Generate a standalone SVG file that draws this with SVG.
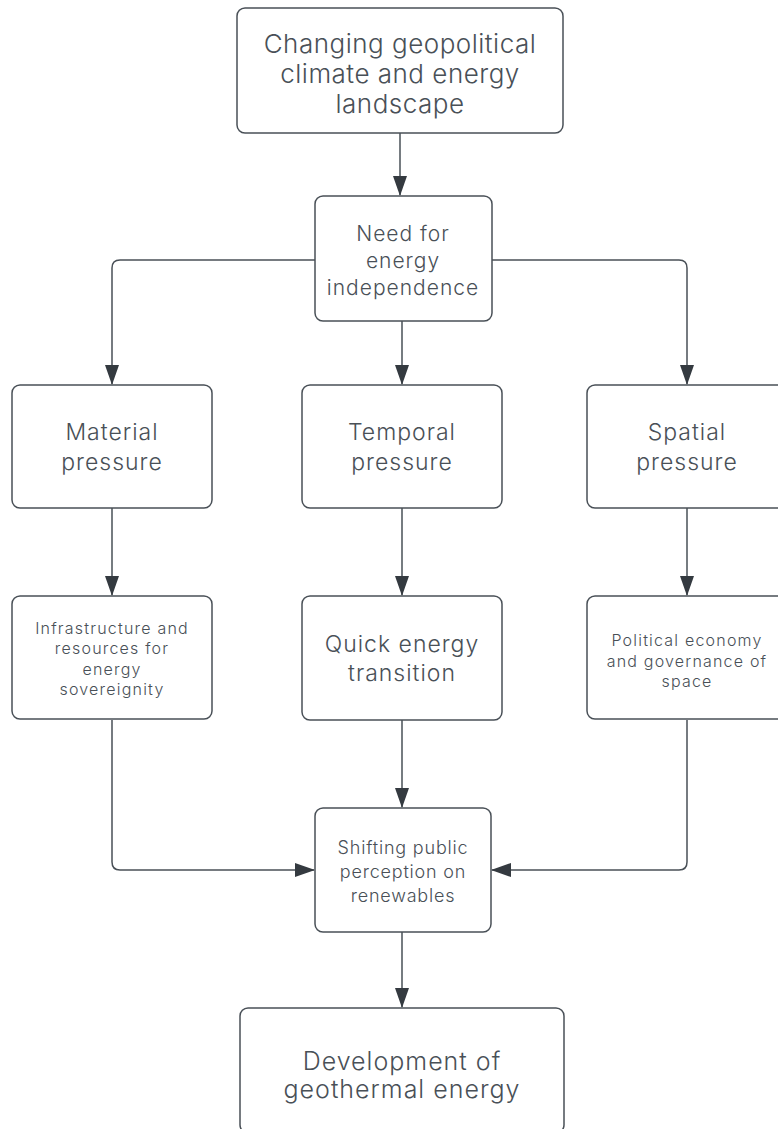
<svg xmlns="http://www.w3.org/2000/svg" width="778" height="1129" viewBox="0 0 778 1129">
<defs>
<style>
.box{fill:#ffffff;stroke:#495057;stroke-width:1.5}
.t{font-family:Inter,"Noto Sans",sans-serif;fill:#495057;text-anchor:middle;dominant-baseline:central;font-weight:300}
.c{fill:none;stroke:#495057;stroke-width:1.5}
</style>
<marker id="ahb" markerWidth="20" markerHeight="14" refX="19" refY="7" orient="auto" markerUnits="userSpaceOnUse">
<path d="M0,0 L20,7 L0,14 Z" fill="#343a40"/>
</marker>
</defs>
<rect width="778" height="1129" fill="#ffffff"/>
<g id="connectors">
<path class="c" d="M400,133 L400,195" marker-end="url(#ahb)"/>
<path class="c" d="M315,260 L120,260 Q112,260 112,268 L112,384" marker-end="url(#ahb)"/>
<path class="c" d="M402,321 L402,384" marker-end="url(#ahb)"/>
<path class="c" d="M492,260 L679,260 Q687,260 687,268 L687,384" marker-end="url(#ahb)"/>
<path class="c" d="M112,508 L112,595" marker-end="url(#ahb)"/>
<path class="c" d="M402,508 L402,595" marker-end="url(#ahb)"/>
<path class="c" d="M687,508 L687,595" marker-end="url(#ahb)"/>
<path class="c" d="M402,720 L402,807" marker-end="url(#ahb)"/>
<path class="c" d="M112,720 L112,862 Q112,870 120,870 L314,870" marker-end="url(#ahb)"/>
<path class="c" d="M687,720 L687,862 Q687,870 679,870 L492,870" marker-end="url(#ahb)"/>
<path class="c" d="M402,932 L402,1007" stroke-width="2" marker-end="url(#ahb)"/>
</g>
<g id="n1">
<rect class="box" x="237" y="8" width="326" height="125" rx="8"/>
<text class="t" font-size="26" letter-spacing="0.5"><tspan x="400" y="43">Changing geopolitical</tspan><tspan x="400" y="73">climate and energy</tspan><tspan x="400" y="103">landscape</tspan></text>
</g>
<g id="n2">
<rect class="box" x="315" y="196" width="177" height="125" rx="8"/>
<text class="t" font-size="21" letter-spacing="1"><tspan x="403" y="233">Need for</tspan><tspan x="403" y="260">energy</tspan><tspan x="403" y="287">independence</tspan></text>
</g>
<g id="n3">
<rect class="box" x="12" y="385" width="200" height="123" rx="8"/>
<text class="t" font-size="23" letter-spacing="1"><tspan x="112" y="432">Material</tspan><tspan x="112" y="462">pressure</tspan></text>
</g>
<g id="n4">
<rect class="box" x="302" y="385" width="200" height="123" rx="8"/>
<text class="t" font-size="23" letter-spacing="1"><tspan x="402" y="432">Temporal</tspan><tspan x="402" y="462">pressure</tspan></text>
</g>
<g id="n5">
<rect class="box" x="587" y="385" width="200" height="123" rx="8"/>
<text class="t" font-size="23" letter-spacing="1"><tspan x="687" y="432">Spatial</tspan><tspan x="687" y="462">pressure</tspan></text>
</g>
<g id="n6">
<rect class="box" x="12" y="596" width="200" height="123" rx="8"/>
<text class="t" font-size="16" letter-spacing="1.2"><tspan x="112" y="628">Infrastructure and</tspan><tspan x="112" y="648">resources for</tspan><tspan x="112" y="669">energy</tspan><tspan x="112" y="689">sovereignity</tspan></text>
</g>
<g id="n7">
<rect class="box" x="302" y="596" width="200" height="124" rx="8"/>
<text class="t" font-size="23" letter-spacing="1"><tspan x="402" y="644">Quick energy</tspan><tspan x="402" y="673">transition</tspan></text>
</g>
<g id="n8">
<rect class="box" x="587" y="596" width="200" height="123" rx="8"/>
<text class="t" font-size="16" letter-spacing="1.2"><tspan x="687" y="640">Political economy</tspan><tspan x="687" y="661">and governance of</tspan><tspan x="687" y="681">space</tspan></text>
</g>
<g id="n9">
<rect class="box" x="315" y="808" width="176" height="124" rx="8"/>
<text class="t" font-size="18" letter-spacing="0.8"><tspan x="403" y="847">Shifting public</tspan><tspan x="403" y="871">perception on</tspan><tspan x="403" y="895">renewables</tspan></text>
</g>
<g id="n10">
<rect class="box" x="240" y="1008" width="324" height="125" rx="8"/>
<text class="t" font-size="25" letter-spacing="1"><tspan x="402" y="1061">Development of</tspan><tspan x="402" y="1089">geothermal energy</tspan></text>
</g>
</svg>
